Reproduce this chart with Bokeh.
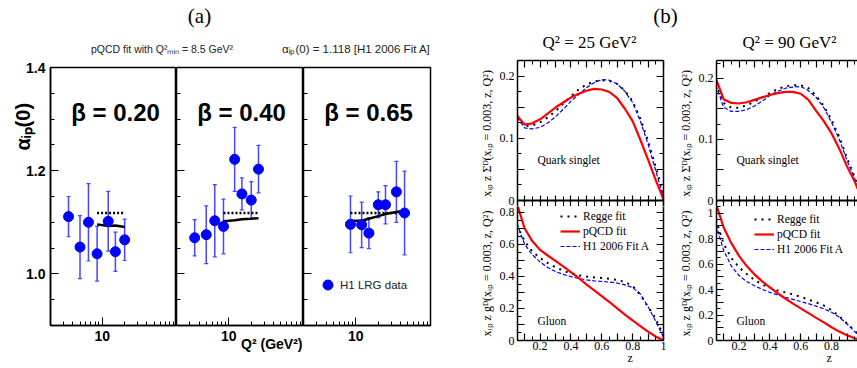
from bokeh.plotting import figure
from bokeh.models import (Range1d, FixedTicker, LinearAxis, LogAxis, Label, Legend,
                          LegendItem, Whisker, TeeHead, ColumnDataSource, Title, Span,
                          NumeralTickFormatter, PrintfTickFormatter)
from bokeh.layouts import row, column
from bokeh.embed import file_html
from bokeh.resources import INLINE

# ---------------- panel (a) data ----------------
q2_b020 = [3.5, 5.0, 6.5, 8.5, 12.0, 15.0, 20.0]
alpha_b020 = [1.111, 1.052, 1.100, 1.039, 1.102, 1.043, 1.066]
err_b020 = [0.039, 0.061, 0.075, 0.053, 0.058, 0.038, 0.040]

q2_b040 = [3.5, 5.0, 6.5, 8.5, 12.0, 15.0, 20.0, 25.0]
alpha_b040 = [1.070, 1.076, 1.103, 1.092, 1.222, 1.155, 1.143, 1.203]
err_b040 = [0.035, 0.056, 0.070, 0.053, 0.062, 0.031, 0.036, 0.046]

q2_b065 = [8.5, 12.0, 15.0, 20.0, 25.0, 35.0, 45.0]
alpha_b065 = [1.096, 1.095, 1.079, 1.134, 1.134, 1.159, 1.118]
err_b065 = [0.055, 0.044, 0.030, 0.025, 0.037, 0.059, 0.081]

fit_q2_b020 = [8.5, 12.0, 15.0, 20.0]
fit_alpha_b020 = [1.096, 1.093, 1.094, 1.091]
fit_q2_b040 = [8.5, 12.0, 15.0, 20.0, 25.0]
fit_alpha_b040 = [1.102, 1.104, 1.106, 1.107, 1.108]
fit_q2_b065 = [8.5, 12.0, 15.0, 20.0, 25.0, 35.0, 45.0]
fit_alpha_b065 = [1.103, 1.103, 1.107, 1.112, 1.116, 1.120, 1.123]
alpha_h1_fitA = 1.118

beta_labels = ["\u03b2 = 0.20", "\u03b2 = 0.40", "\u03b2 = 0.65"]
a_xticks = [10]
a_xminor = [3, 4, 5, 6, 7, 8, 9, 20, 30, 40, 50, 60, 70, 80, 90]
a_yticks = [1.0, 1.2, 1.4]
a_yminor = [0.9, 0.95, 1.05, 1.1, 1.15, 1.25, 1.3, 1.35]

# ---------------- panel (b) data ----------------
z = [0.05, 0.10, 0.15, 0.20, 0.25, 0.30, 0.35, 0.40, 0.45, 0.50,
     0.55, 0.60, 0.65, 0.70, 0.75, 0.80, 0.85, 0.90, 0.95, 1.00]

quark_q25_regge = [0.135, 0.120, 0.121, 0.126, 0.134, 0.144, 0.156, 0.168, 0.179, 0.187,
                   0.192, 0.194, 0.193, 0.188, 0.177, 0.160, 0.132, 0.096, 0.054, 0.010]
quark_q25_pqcd = [0.137, 0.1225, 0.1245, 0.131, 0.140, 0.150, 0.158, 0.166, 0.172, 0.177,
                  0.180, 0.179, 0.175, 0.165, 0.148, 0.128, 0.098, 0.066, 0.033, 0.002]
quark_q25_fitA = [0.134, 0.117, 0.1155, 0.118, 0.125, 0.135, 0.147, 0.160, 0.171, 0.182,
                  0.190, 0.195, 0.194, 0.188, 0.176, 0.158, 0.128, 0.091, 0.048, 0.005]

quark_q90_regge = [0.192, 0.160, 0.152, 0.152, 0.156, 0.162, 0.169, 0.176, 0.183, 0.187,
                   0.189, 0.189, 0.184, 0.172, 0.155, 0.132, 0.104, 0.070, 0.038, 0.000]
quark_q90_pqcd = [0.200, 0.166, 0.160, 0.159, 0.161, 0.165, 0.169, 0.173, 0.176, 0.178,
                  0.178, 0.175, 0.165, 0.147, 0.130, 0.110, 0.085, 0.056, 0.031, 0.000]
quark_q90_fitA = [0.189, 0.153, 0.146, 0.146, 0.149, 0.155, 0.163, 0.172, 0.179, 0.184,
                  0.186, 0.187, 0.180, 0.169, 0.152, 0.128, 0.100, 0.066, 0.036, 0.000]

gluon_q25_regge = [0.72, 0.62, 0.555, 0.515, 0.483, 0.457, 0.435, 0.418, 0.406, 0.399,
                   0.394, 0.390, 0.385, 0.378, 0.365, 0.340, 0.285, 0.210, 0.135, 0.030]
gluon_q25_pqcd = [0.855, 0.70, 0.62, 0.565, 0.530, 0.496, 0.462, 0.427, 0.390, 0.350,
                  0.314, 0.277, 0.240, 0.200, 0.162, 0.125, 0.090, 0.055, 0.025, 0.000]
gluon_q25_fitA = [0.73, 0.60, 0.535, 0.49, 0.455, 0.430, 0.412, 0.398, 0.387, 0.378,
                  0.372, 0.368, 0.364, 0.358, 0.347, 0.330, 0.290, 0.210, 0.120, 0.020]

gluon_q90_regge = [0.95, 0.76, 0.65, 0.575, 0.522, 0.475, 0.440, 0.415, 0.393, 0.378,
                   0.362, 0.343, 0.322, 0.300, 0.275, 0.238, 0.190, 0.135, 0.075, 0.020]
gluon_q90_pqcd = [1.075, 0.89, 0.765, 0.665, 0.585, 0.520, 0.465, 0.418, 0.373, 0.330,
                  0.290, 0.252, 0.215, 0.178, 0.142, 0.104, 0.070, 0.042, 0.018, 0.000]
gluon_q90_fitA = [0.91, 0.71, 0.585, 0.51, 0.463, 0.430, 0.402, 0.378, 0.358, 0.340,
                  0.323, 0.306, 0.290, 0.270, 0.249, 0.222, 0.183, 0.130, 0.070, 0.020]

z_lab_ticks = [0.2, 0.4, 0.6, 0.8, 1.0]
z_mid_ticks = [0.1, 0.3, 0.5, 0.7, 0.9]
z_all_ticks = [0.1, 0.2, 0.3, 0.4, 0.5, 0.6, 0.7, 0.8, 0.9, 1.0]
z_minor = [0.05, 0.15, 0.25, 0.35, 0.45, 0.55, 0.65, 0.75, 0.85, 0.95]
z_labels = {0.2: "0.2", 0.4: "0.4", 0.6: "0.6", 0.8: "0.8", 1.0: "1"}
q_lab_ticks = [0, 0.1, 0.2]
q_mid_ticks = [0.05, 0.15]
q_all_ticks = [0, 0.05, 0.1, 0.15, 0.2]
q_minor = [0.025, 0.075, 0.125, 0.175, 0.225]
q_labels = {0: "0", 0.1: "0.1", 0.2: "0.2"}
g_lab_ticks = [0, 0.2, 0.4, 0.6, 0.8, 1.0]
g_mid_ticks = [0.1, 0.3, 0.5, 0.7, 0.9]
g_all_ticks = [0, 0.1, 0.2, 0.3, 0.4, 0.5, 0.6, 0.7, 0.8, 0.9, 1.0]
g_minor = [0.05, 0.15, 0.25, 0.35, 0.45, 0.55, 0.65, 0.75, 0.85, 0.95, 1.05]
g_labels = {0: "0", 0.2: "0.2", 0.4: "0.4", 0.6: "0.6", 0.8: "0.8", 1.0: "1"}

SANS = "Liberation Sans"
SERIF = "Liberation Serif"
DOT_BLUE = "#0000ff"
ERR_BLUE = "#4646ff"


def base_fig(**kw):
    p = figure(output_backend="svg", toolbar_location=None, title=None,
               x_axis_location=None, y_axis_location=None, **kw)
    p.grid.visible = False
    p.background_fill_color = "white"
    p.border_fill_color = "white"
    return p


def lab(p, x, y, text, size, font=SANS, bold=False, align="left",
        baseline="middle", color="black"):
    p.add_layout(Label(x=x, y=y, x_units="screen", y_units="screen", text=text,
                       text_font=font, text_font_size=size,
                       text_font_style="bold" if bold else "normal",
                       text_align=align, text_baseline=baseline, text_color=color))


def tick_axis(p, side, positions, length, line=False, lw=1.5, tlw=1.0, log=False):
    cls = LogAxis if log else LinearAxis
    ax = cls(ticker=FixedTicker(ticks=[], minor_ticks=positions))
    ax.minor_tick_in = length
    ax.minor_tick_out = 0
    ax.major_tick_in = 0
    ax.major_tick_out = 0
    ax.minor_tick_line_width = tlw
    ax.major_label_standoff = 0
    if line:
        ax.axis_line_width = lw
    else:
        ax.axis_line_color = None
    p.add_layout(ax, side)
    return ax


def legend_kw(size, height):
    return dict(orientation="horizontal", glyph_width=33, glyph_height=height,
                label_height=height, label_standoff=6, spacing=15, padding=0, margin=0,
                border_line_color=None, background_fill_alpha=0, label_text_font=SANS,
                label_text_font_size=size, label_text_color="#222222")


# ---------------- header ----------------
hdr = base_fig(width=857, height=57, x_range=Range1d(0, 1), y_range=Range1d(0, 1),
               min_border=0)
hdr.outline_line_color = None
r_fit = hdr.line(x=[], y=[], line_color="black", line_width=2.5)
r_h1a = hdr.line(x=[], y=[], line_color="black", line_width=2.5, line_dash="2 2")
hdr.add_layout(Legend(items=[LegendItem(
    label="pQCD fit with Q\u00b2\u2098\u1d62\u2099 = 8.5 GeV\u00b2", renderers=[r_fit])],
    location=(52, 1), **legend_kw("10.5px", 12)))
hdr.add_layout(Legend(items=[LegendItem(
    label="\u03b1\u1d62\u209a(0) = 1.118 [H1 2006 Fit A]", renderers=[r_h1a])],
    location=(243, 1), **legend_kw("11.5px", 12)))
lab(hdr, 199, 42, "(a)", "21px", font=SERIF, align="center")
lab(hdr, 665, 42, "(b)", "21px", font=SERIF, align="center")
lab(hdr, 589, 15, "Q\u00b2 = 25 GeV\u00b2", "17px", font=SERIF, align="center")
lab(hdr, 789, 15, "Q\u00b2 = 90 GeV\u00b2", "17px", font=SERIF, align="center")


# ---------------- panel (a) ----------------
def style_a(ax):
    ax.axis_line_width = 1.5
    ax.major_tick_in = 8
    ax.major_tick_out = 0
    ax.minor_tick_in = 4
    ax.minor_tick_out = 0
    ax.major_tick_line_width = 1
    ax.minor_tick_line_width = 1
    ax.major_label_text_font = SANS
    ax.major_label_text_font_style = "bold"
    ax.major_label_text_font_size = "14px"
    ax.major_label_text_color = "black"


def make_a(width, bl, br, q2, alpha, err, fq2, falpha, beta, first):
    p = base_fig(width=width, height=311, x_axis_type="log",
                 x_range=Range1d(2, 100), y_range=Range1d(0.9, 1.4),
                 min_border_left=bl, min_border_right=br,
                 min_border_top=10, min_border_bottom=43)
    p.outline_line_color = "black"
    p.outline_line_width = 1.5
    xa = LogAxis(ticker=FixedTicker(ticks=a_xticks, minor_ticks=a_xminor),
                 formatter=NumeralTickFormatter(format="0"))
    style_a(xa)
    xa.major_label_standoff = 5
    p.add_layout(xa, "below")
    if first:
        ya = LinearAxis(ticker=FixedTicker(ticks=a_yticks, minor_ticks=a_yminor),
                        formatter=PrintfTickFormatter(format="%.1f"))
        style_a(ya)
        ya.major_label_standoff = 5
        p.add_layout(ya, "left")
    else:
        tick_axis(p, "left", a_yticks, 8)
        tick_axis(p, "left", a_yminor, 4)

    lo = [a - e for a, e in zip(alpha, err)]
    hi = [a + e for a, e in zip(alpha, err)]
    src = ColumnDataSource(dict(q2=q2, a=alpha, lo=lo, hi=hi))
    p.line(fq2, [alpha_h1_fitA] * len(fq2), line_color="black", line_width=2.5,
           line_dash="2 2")
    p.line(fq2, falpha, line_color="black", line_width=2.5)
    p.add_layout(Whisker(source=src, base="q2", lower="lo", upper="hi",
                         line_color=ERR_BLUE, line_width=1.5,
                         upper_head=TeeHead(size=4, line_color=ERR_BLUE, line_width=1.2),
                         lower_head=TeeHead(size=4, line_color=ERR_BLUE, line_width=1.2)))
    r = p.scatter("q2", "a", source=src, size=10, fill_color=DOT_BLUE,
                  line_color=DOT_BLUE)
    lab(p, 65, 213, beta, "24px", bold=True, align="center")
    return p, r


a1, _ = make_a(176, 50, 0, q2_b020, alpha_b020, err_b020, fit_q2_b020, fit_alpha_b020,
               beta_labels[0], True)
a2, _ = make_a(127, 0, 0, q2_b040, alpha_b040, err_b040, fit_q2_b040, fit_alpha_b040,
               beta_labels[1], False)
a3, r_pts = make_a(137, 0, 10, q2_b065, alpha_b065, err_b065, fit_q2_b065, fit_alpha_b065,
                   beta_labels[2], False)

a1.add_layout(Title(text="\u03b1\u1d62\u209a(0)", align="left", offset=175,
                    vertical_align="bottom", standoff=-20, text_font=SANS,
                    text_font_style="bold", text_font_size="20px", text_color="black"),
              "left")
a2.add_layout(Title(text="Q\u00b2 (GeV\u00b2)", align="right", offset=1,
                    vertical_align="top", standoff=-16, text_font=SANS,
                    text_font_style="bold", text_font_size="14px", text_color="black"),
              "below")

leg_h1 = Legend(items=[LegendItem(label="H1 LRG data", renderers=[r_pts])],
                location=(12, 28), glyph_width=25, glyph_height=25, label_height=25,
                label_standoff=0, padding=0, margin=0, border_line_color=None,
                background_fill_alpha=0, label_text_font=SANS,
                label_text_font_size="11.5px", label_text_color="#222222")
a3.add_layout(leg_h1)


# ---------------- panel (b) ----------------
def make_b(width, bl, br, height, bt, bb, xend, y0, y1):
    p = base_fig(width=width, height=height, x_range=Range1d(0.054, xend),
                 y_range=Range1d(y0, y1), min_border_left=bl, min_border_right=br,
                 min_border_top=bt, min_border_bottom=bb)
    p.outline_line_color = None
    return p


def lab_axis(p, side, ticks, overrides, standoff=3, title=None):
    ax = LinearAxis(ticker=FixedTicker(ticks=ticks))
    ax.axis_line_width = 1.5
    ax.major_tick_in = 7
    ax.major_tick_out = 0
    ax.minor_tick_in = 0
    ax.minor_tick_out = 0
    ax.major_tick_line_width = 1.2
    ax.major_label_overrides = overrides
    ax.major_label_text_font = SERIF
    ax.major_label_text_font_size = "12px"
    ax.major_label_text_color = "black"
    ax.major_label_standoff = standoff
    if title is not None:
        ax.axis_label = title
        ax.axis_label_text_font = SERIF
        ax.axis_label_text_font_size = "12px"
        ax.axis_label_text_font_style = "normal"
        ax.axis_label_text_color = "black"
        ax.axis_label_standoff = 3
    p.add_layout(ax, side)
    return ax


def curves(p, regge, pqcd, fita):
    r1 = p.line(z, regge, line_color="black", line_width=2, line_dash="2 5")
    r3 = p.line(z, fita, line_color="#0000ff", line_width=1.2, line_dash="4 2")
    r2 = p.line(z, pqcd, line_color="#ff0000", line_width=2.2)
    return r1, r2, r3


QTITLE = "x\u1d62\u209a z \u03a3\u1d30(x\u1d62\u209a = 0.003, z, Q\u00b2)"
GTITLE = "x\u1d62\u209a z g\u1d30(x\u1d62\u209a = 0.003, z, Q\u00b2)"
PANEL_PX = 140.0   # pixel height of each (b) sub-panel
SHARED_PX = 6.0    # pixels of the gluon panel drawn inside the quark canvas


def b_column(width, bl, br, xend, qmax, gmax, quark, gluon, right_axis, leg_loc):
    top = make_b(width, bl, br, 149, 3, 0, xend, -SHARED_PX * qmax / PANEL_PX, qmax)
    tick_axis(top, "left", q_mid_ticks, 7, tlw=1.2)
    tick_axis(top, "left", q_minor, 4)
    lab_axis(top, "left", q_lab_ticks, q_labels, title=QTITLE)
    if right_axis:
        tick_axis(top, "right", q_all_ticks, 7, line=True, tlw=1.2)
        tick_axis(top, "right", q_minor, 4)
    tick_axis(top, "above", z_all_ticks, 7, line=True, tlw=1.2)
    tick_axis(top, "above", z_minor, 4)
    tick_axis(top, "below", z_all_ticks, 11, tlw=1.2)
    tick_axis(top, "below", z_minor, 10)
    top.add_layout(Span(location=0, dimension="width", line_color="black", line_width=2))
    curves(top, *quark)
    lab(top, 20, 47, "Quark singlet", "11.5px", font=SERIF)

    gtop = gmax * (PANEL_PX - SHARED_PX) / PANEL_PX
    bot = make_b(width, bl, br, 162, 0, 28, xend, 0, gtop)
    tick_axis(bot, "left", g_mid_ticks, 7, tlw=1.2)
    tick_axis(bot, "left", g_minor, 4)
    lab_axis(bot, "left", g_lab_ticks, g_labels, title=GTITLE)
    if right_axis:
        tick_axis(bot, "right", g_all_ticks, 7, line=True, tlw=1.2)
        tick_axis(bot, "right", g_minor, 4)
    tick_axis(bot, "below", z_mid_ticks, 7, tlw=1.2)
    tick_axis(bot, "below", z_minor, 4)
    lab_axis(bot, "below", z_lab_ticks, z_labels, standoff=1)
    bot.add_layout(Title(text="z", align="left", offset=110, vertical_align="top",
                         standoff=-4, text_font=SERIF, text_font_style="normal",
                         text_font_size="12px", text_color="black"), "below")
    r1, r2, r3 = curves(bot, *gluon)
    lab(bot, 20, 20, "Gluon", "11.5px", font=SERIF)
    leg = Legend(items=[LegendItem(label="Regge fit", renderers=[r1]),
                        LegendItem(label="pQCD fit", renderers=[r2]),
                        LegendItem(label="H1 2006 Fit A", renderers=[r3])],
                 location=leg_loc, glyph_width=20, glyph_height=14, label_height=14,
                 label_standoff=3, spacing=1, padding=0, margin=0,
                 border_line_color=None, background_fill_alpha=0,
                 label_text_font=SERIF, label_text_font_size="11.5px",
                 label_text_color="black")
    bot.add_layout(leg)
    return column(top, bot)


colb1 = b_column(230, 77, 7, 1.0, 0.2258, 0.873,
                 (quark_q25_regge, quark_q25_pqcd, quark_q25_fitA),
                 (gluon_q25_regge, gluon_q25_pqcd, gluon_q25_fitA), True, (43, 87))
colb2 = b_column(187, 46, 0, 0.968, 0.2295, 1.1,
                 (quark_q90_regge, quark_q90_pqcd, quark_q90_fitA),
                 (gluon_q90_regge, gluon_q90_pqcd, gluon_q90_fitA), False, (38, 84))

layout = column(hdr, row(a1, a2, a3, colb1, colb2))

with open("out.html", "w") as f:
    f.write(file_html(layout, INLINE))
